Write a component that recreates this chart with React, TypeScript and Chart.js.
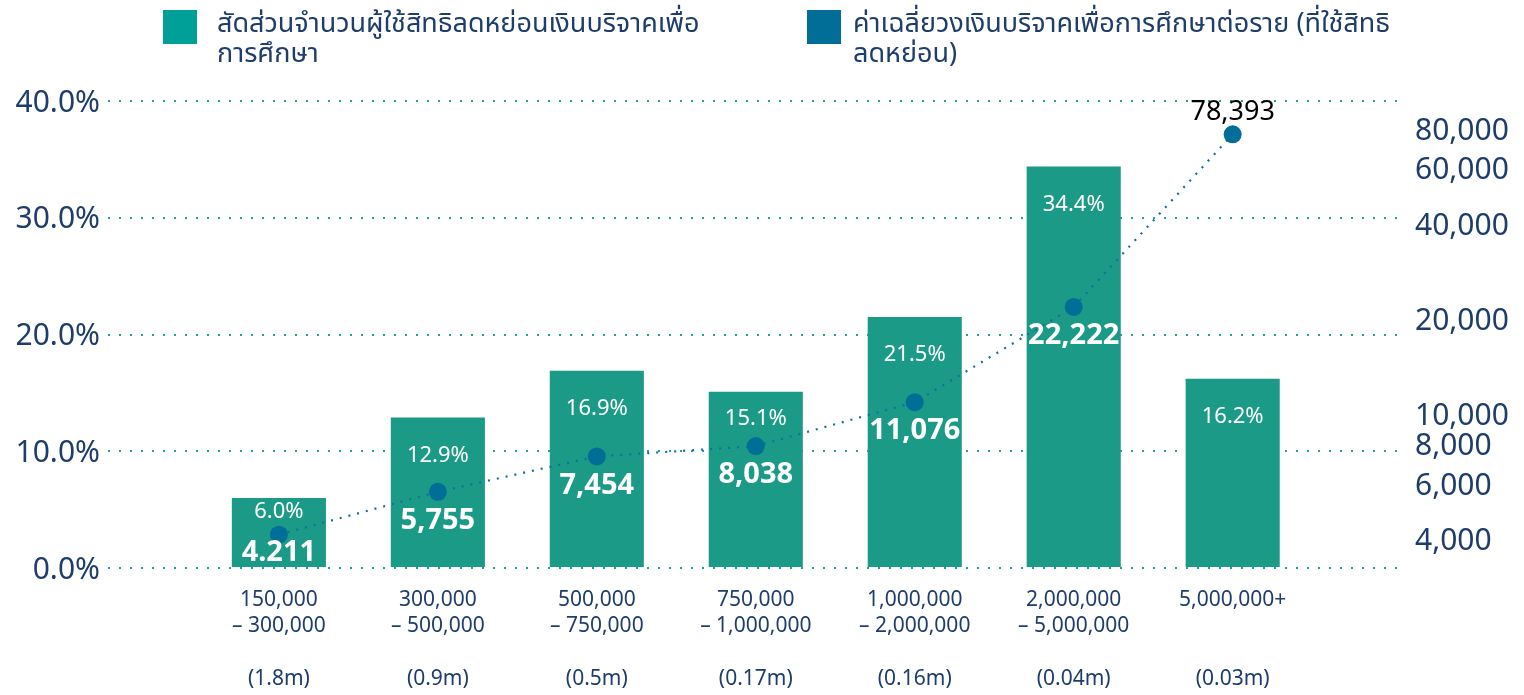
import React, { useEffect, useRef } from "react";
import { Chart, registerables } from "chart.js";

Chart.register(...registerables);

// ---------- data ----------
const categoryLabels: string[][] = [
  ["150,000", "– 300,000", "", "(1.8m)"],
  ["300,000", "– 500,000", "", "(0.9m)"],
  ["500,000", "– 750,000", "", "(0.5m)"],
  ["750,000", "– 1,000,000", "", "(0.17m)"],
  ["1,000,000", "– 2,000,000", "", "(0.16m)"],
  ["2,000,000", "– 5,000,000", "", "(0.04m)"],
  ["5,000,000+", "", "", "(0.03m)"],
];
const shareOfClaimants = [6.0, 12.9, 16.9, 15.1, 21.5, 34.4, 16.2];
const shareLabels = ["6.0%", "12.9%", "16.9%", "15.1%", "21.5%", "34.4%", "16.2%"];
const avgDonation = [4211, 5755, 7454, 8038, 11076, 22222, 78393];
const avgDonationLabels = ["4.211", "5,755", "7,454", "8,038", "11,076", "22,222", "78,393"];
const leftTicks = [0, 10, 20, 30, 40];
const rightTicks = [4000, 6000, 8000, 10000, 20000, 40000, 60000, 80000];
const legendLines = [
  ["สัดส่วนจำนวนผู้ใช้สิทธิลดหย่อนเงินบริจาคเพื่อ", "การศึกษา"],
  ["ค่าเฉลี่ยวงเงินบริจาคเพื่อการศึกษาต่อราย (ที่ใช้สิทธิ", "ลดหย่อน)"],
];

// ---------- styles ----------
const NAVY = "#1e3d6b";
const BAR = "#1c9a88";
const LEGEND_TEAL = "#00a098";
const POINT = "#006e96";
const LINE = "#14709a";
const GRID = "#1aa596";
const FONT = "'Noto Sans', 'Open Sans', sans-serif";
const THAI_FONT = "'Noto Sans Thai', 'Noto Sans Thai UI', 'Sarabun', 'Kanit', 'Loma', 'Garuda', 'Noto Sans', sans-serif";

const labelPlugin = {
  id: "valueLabels",
  afterDatasetsDraw(chart: any) {
    const ctx = chart.ctx;
    const barMeta = chart.getDatasetMeta(0);
    const lineMeta = chart.getDatasetMeta(1);
    ctx.save();
    ctx.textAlign = "center";
    ctx.textBaseline = "middle";
    barMeta.data.forEach((bar: any, i: number) => {
      const pt = lineMeta.data[i];
      const top = bar.y;
      let y = top + 38;
      if (pt && pt.y > top) {
        y = Math.min(y, pt.y - 27);
        y = Math.max(y, top + 14);
      }
      ctx.fillStyle = "#ffffff";
      ctx.font = `400 22px ${FONT}`;
      ctx.fillText(shareLabels[i], bar.x, y);
    });
    lineMeta.data.forEach((pt: any, i: number) => {
      const bar = barMeta.data[i];
      if (bar && pt.y > bar.y) {
        const y = Math.min(pt.y + 29, bar.base - 14);
        ctx.fillStyle = "#ffffff";
        ctx.font = `700 29px ${FONT}`;
        ctx.fillText(avgDonationLabels[i], pt.x, y);
      } else {
        ctx.fillStyle = "#000000";
        ctx.font = `400 27px ${FONT}`;
        ctx.fillText(avgDonationLabels[i], pt.x, pt.y - 22);
      }
    });
    ctx.restore();
  },
};

export default function App() {
  const canvasRef = useRef<HTMLCanvasElement | null>(null);

  useEffect(() => {
    document.body.style.margin = "0";
    const canvas = canvasRef.current;
    if (!canvas) return;
    const chart = new Chart(canvas, {
      type: "bar",
      data: {
        datasets: [
          {
            type: "bar",
            label: legendLines[0].join(""),
            data: shareOfClaimants.map((v, i) => ({ x: i, y: v })),
            backgroundColor: BAR,
            borderWidth: 0,
            barPercentage: 0.74,
            categoryPercentage: 0.8,
            yAxisID: "y",
            order: 2,
          },
          {
            type: "line",
            label: legendLines[1].join(""),
            data: avgDonation.map((v, i) => ({ x: i, y: v })),
            borderColor: LINE,
            borderWidth: 2.2,
            borderDash: [2, 7],
            pointRadius: 9,
            pointBackgroundColor: POINT,
            pointBorderWidth: 0,
            tension: 0,
            yAxisID: "y1",
            order: 1,
          },
        ],
      } as any,
      options: {
        responsive: false,
        animation: false,
        layout: { padding: { top: 101, left: 0, right: 0, bottom: 0 } },
        plugins: {
          legend: { display: false },
          tooltip: { enabled: false },
        },
        scales: {
          x: {
            type: "linear",
            min: -1.075,
            max: 7.04,
            offset: false,
            grid: { display: false, drawTicks: false },
            border: { display: false },
            afterBuildTicks: (scale: any) => {
              scale.ticks = categoryLabels.map((_, i) => ({ value: i }));
            },
            afterFit: (scale: any) => {
              scale.height = 127;
            },
            ticks: {
              autoSkip: false,
              maxRotation: 0,
              padding: 19,
              color: NAVY,
              font: { family: FONT, size: 21, lineHeight: 1.25 },
              callback: (v: any) => categoryLabels[Math.round(v)] ?? "",
            },
          },
          y: {
            type: "linear",
            position: "left",
            min: 0,
            max: 40,
            afterBuildTicks: (scale: any) => {
              scale.ticks = leftTicks.map((v) => ({ value: v }));
            },
            afterFit: (scale: any) => {
              scale.width = 108;
            },
            grid: { color: GRID, lineWidth: 2, drawTicks: false },
            border: { display: false, dash: [2, 9] },
            ticks: {
              padding: 8,
              color: NAVY,
              font: { family: FONT, size: 30 },
              labelOffset: 2,
              callback: (v: any) => Number(v).toFixed(1) + "%",
            },
          },
          y1: {
            type: "logarithmic",
            position: "right",
            min: 3300,
            max: 100000,
            afterBuildTicks: (scale: any) => {
              scale.ticks = rightTicks.map((v) => ({ value: v }));
            },
            afterFit: (scale: any) => {
              scale.width = 126;
            },
            grid: { display: false, drawTicks: false },
            border: { display: false },
            ticks: {
              padding: 17,
              color: NAVY,
              font: { family: FONT, size: 30 },
              callback: (v: any) => Number(v).toLocaleString("en-US"),
            },
          },
        },
      } as any,
      plugins: [labelPlugin],
    });
    return () => chart.destroy();
  }, []);

  const legendItem = (left: number, textLeft: number, color: string, lines: string[]) => (
    <>
      <div
        style={{
          position: "absolute",
          left,
          top: 10,
          width: 34,
          height: 34,
          background: color,
        }}
      />
      <div
        style={{
          position: "absolute",
          left: textLeft,
          top: 9,
          fontFamily: THAI_FONT,
          fontSize: 27,
          lineHeight: "30px",
          color: NAVY,
          whiteSpace: "nowrap",
        }}
      >
        {lines[0]}
        <br />
        {lines[1]}
      </div>
    </>
  );

  return (
    <div style={{ position: "relative", width: 1524, height: 695, background: "#ffffff" }}>
      <canvas ref={canvasRef} width={1524} height={695} style={{ position: "absolute", left: 0, top: 0 }} />
      {legendItem(163, 217, LEGEND_TEAL, legendLines[0])}
      {legendItem(807, 853, POINT, legendLines[1])}
    </div>
  );
}
